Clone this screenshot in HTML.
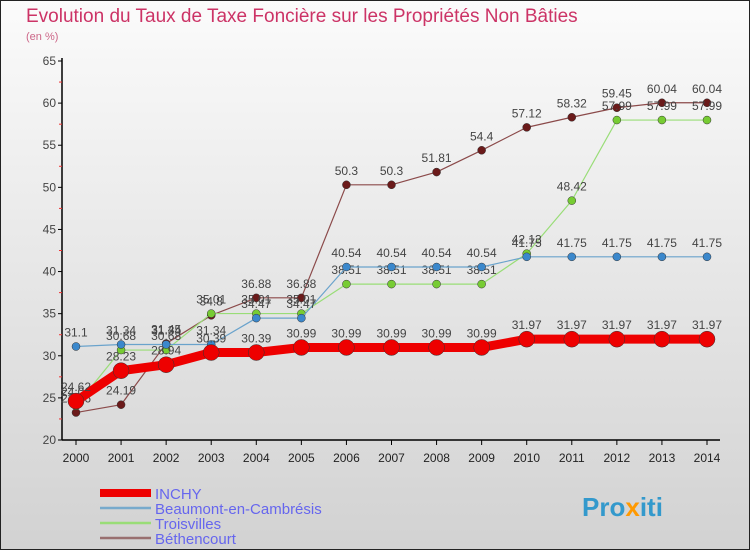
<!DOCTYPE html>
<html><head><meta charset="utf-8"><style>
body{margin:0;}
svg text{font-family:"Liberation Sans",sans-serif;}
</style></head><body>
<svg id="chart" width="750" height="550" xmlns="http://www.w3.org/2000/svg">
<defs><linearGradient id="bg" x1="0" y1="0" x2="0" y2="1"><stop offset="0" stop-color="#fbfbfb"/><stop offset="1" stop-color="#d2d2d2"/></linearGradient></defs>
<rect x="0.5" y="0.5" width="749" height="549" fill="url(#bg)" stroke="#222"/>
<text x="26" y="22" font-size="19" fill="#cc3366">Evolution du Taux de Taxe Foncière sur les Propriétés Non Bâties</text>
<text x="26" y="40" font-size="11" fill="#cc6688">(en %)</text>
<g id="axes"></g><g id="series"></g><g id="legend"></g>
<text x="582" y="516" font-size="26" font-weight="bold" fill="#3399cc">Pro<tspan fill="#ff9900">x</tspan>iti</text>
</svg>
<script>
const years=["2000","2001","2002","2003","2004","2005","2006","2007","2008","2009","2010","2011","2012","2013","2014"];
const yTicks=[20,25,30,35,40,45,50,55,60,65];
const inchy=[24.62,28.23,28.94,30.39,30.39,30.99,30.99,30.99,30.99,30.99,31.97,31.97,31.97,31.97,31.97];
const beaumont=[31.1,31.34,31.34,31.34,34.47,34.47,40.54,40.54,40.54,40.54,41.75,41.75,41.75,41.75,41.75];
const troisvilles=[24.06,30.68,30.68,35.01,35.01,35.01,38.51,38.51,38.51,38.51,42.13,48.42,57.99,57.99,57.99];
const bethencourt=[23.26,24.19,31.45,34.8,36.88,36.88,50.3,50.3,51.81,54.4,57.12,58.32,59.45,60.04,60.04];
const seriesNames=["INCHY","Beaumont-en-Cambrésis","Troisvilles","Béthencourt"];
const NS="http://www.w3.org/2000/svg";
const X=i=>76+i*(707-76)/(years.length-1);
const Y=v=>440-(v-20)*(440-61)/45;
function mk(p,tag,a){const e=document.createElementNS(NS,tag);for(const k in a)e.setAttribute(k,a[k]);p.appendChild(e);return e;}
const axes=document.getElementById('axes');
let yl=mk(axes,'line',{x1:62,y1:58,x2:62,y2:440,stroke:'#000','stroke-width':1.5});


let xl=mk(axes,'line',{x1:62,y1:440,x2:720,y2:440,stroke:'#000','stroke-width':1.5});


yTicks.forEach(v=>{
  mk(axes,'line',{x1:58,y1:Y(v),x2:62,y2:Y(v),stroke:'#000'});
  if(v<65)mk(axes,'line',{x1:59,y1:Y(v+2.5),x2:62,y2:Y(v+2.5),stroke:'#e33'});
  const t=mk(axes,'text',{x:56,y:Y(v)+4,'font-size':12,'text-anchor':'end',fill:'#444'});
  t.textContent=v;
  
  
});
years.forEach((y,i)=>{
  mk(axes,'line',{x1:X(i),y1:440,x2:X(i),y2:445,stroke:'#000'});
  const t=mk(axes,'text',{x:X(i),y:462,'font-size':12,'text-anchor':'middle',fill:'#222'});
  t.textContent=y;
  
  
});
const sg=document.getElementById('series');
function draw(data,name,color,dot,lw,r){
  const g=mk(sg,'g',{});
  
  
  const pl=mk(g,'polyline',{points:data.map((v,i)=>X(i)+','+Y(v)).join(' '),fill:'none',stroke:color,'stroke-width':lw,'stroke-linejoin':'round'});
  
  
  data.forEach((v,i)=>{
    const c=mk(g,'circle',{cx:X(i),cy:Y(v),r:r,fill:dot,stroke:'#333','stroke-width':0.5});
    
    
    const t=mk(g,'text',{x:X(i),y:Y(v)-10,'font-size':12,'text-anchor':'middle',fill:'#444'});
    t.textContent=v;
    
    
  });
}
draw(bethencourt,'bethencourt','#8b4a4a','#6b1a1a',1.2,4);
draw(troisvilles,'troisvilles','#99dd77','#77cc33',1.2,4);
draw(beaumont,'beaumont','#6aa3cc','#3b88cc',1.2,4);
draw(inchy,'inchy','#ee0000','#ee0000',9,8);
const lg=document.getElementById('legend');
const lc=[['#ee0000',8],['#77aacc',2.5],['#99dd77',2.5],['#997070',2.5]];
seriesNames.forEach((n,i)=>{
  const y=493+i*15;
  const l=mk(lg,'line',{x1:100,y1:y,x2:151,y2:y,stroke:lc[i][0],'stroke-width':lc[i][1]});
  
  
  const t=mk(lg,'text',{x:155,y:y+6,'font-size':15,fill:'#6666ee'});
  t.textContent=n;
  
  
});
</script>
</body></html>
